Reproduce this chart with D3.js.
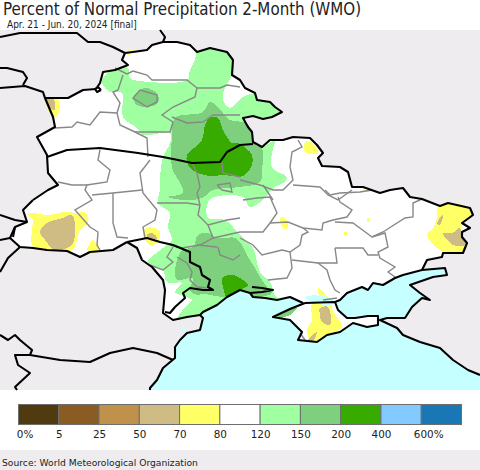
<!DOCTYPE html>
<html>
<head>
<meta charset="utf-8">
<script src="https://cdn.jsdelivr.net/npm/d3@7"></script>
<style>
html, body { margin: 0; padding: 0; background: #fff; }
svg { display: block; }
text { font-family: "DejaVu Sans", sans-serif; fill: #222; }
.cond { font-family: "DejaVu Sans Condensed", "DejaVu Sans", sans-serif; font-stretch: condensed; }
</style>
</head>
<body>
<div id="chart"></div>
<script>
const titleText = 'Percent of Normal Precipitation 2-Month (WMO)';
const subtitleText = 'Apr. 21 - Jun. 20, 2024 [final]';
const sourceText = 'Source: World Meteorological Organization';

const legendColors = ['#503a10','#8a5c24','#c0914b','#cfbc85','#ffff66','#ffffff','#a0ffa0','#7ed07e','#38ab00','#82caff','#1877b4'];
const legendLabels = ['0%','5','25','50','70','80','120','150','200','400','600%'];

// Country border pieces
const borderWest = [[33,200],[48,190],[58,185],[48,173],[47,155],[37,137],[55,127],[53,117],[45,98],[68,98],[83,90],[96,89]];
const borderNorth = [[96,89],[100,83],[103,72],[115,70],[128,65],[122,60],[125,53],[133,52],[147,50],[152,45],[163,42],[177,42],[190,45],[197,52],[210,48],[227,52],[233,60],[232,75],[240,80],[245,88],[255,93],[257,100],[270,102],[275,107],[282,112],[272,117],[263,119],[253,116],[243,118],[248,127],[252,132],[253,142],[262,147],[270,140],[283,140],[293,137],[310,138],[317,145],[323,153],[318,158],[322,166],[340,167],[348,172],[352,187],[363,187],[380,193],[390,190],[403,188],[410,197],[422,199],[440,206],[448,203],[470,208],[473,215],[462,223],[470,228],[462,232],[462,237],[467,243],[463,253],[443,253],[442,257],[427,260],[422,270]];
const coastAzov = [[422,270],[403,275],[395,278],[383,285],[373,283],[368,290],[362,287],[347,293],[340,300],[335,302]];
const coastBlack = [[303,303],[290,297],[277,300],[265,298],[253,297],[250,293],[240,290],[227,297],[217,305],[203,312],[200,315]];
const borderRomania = [[200,315],[187,317],[173,320],[163,313],[165,290],[163,280],[152,267],[142,260],[137,248],[127,242]];
const borderSouthWest = [[127,242],[113,250],[90,252],[80,257],[67,251],[47,250],[33,248],[20,247],[10,238],[15,227],[27,222],[23,210],[33,200]];
const crimea = [[305,303],[290,309],[273,317],[290,320],[302,332],[298,340],[317,342],[327,335],[340,332],[353,323],[367,327],[378,325],[378,316],[368,316],[355,318],[347,318],[338,310],[335,302]];
const coastSouth = [[200,315],[203,318],[200,330],[187,333],[180,340],[175,347],[175,358],[163,368],[157,380],[150,388],[150,390]];
const coastRussia = [[422,270],[445,268],[447,275],[433,277],[410,285],[420,293],[430,300],[422,298],[412,307],[405,318],[387,318],[380,320],[397,328],[403,335],[420,342],[440,348],[453,360],[468,370],[480,375]];

const otherBorders = [
  [[0,37],[20,33],[63,33],[77,33],[88,42],[100,42],[113,47],[125,53]],
  [[160,30],[165,37],[163,42]],
  [[0,68],[7,68],[23,72],[27,78],[23,85]],
  [[0,88],[25,86],[43,92],[45,98]],
  [[47,157],[67,150],[100,148],[138,153],[163,157],[178,160],[192,163],[220,162],[227,152],[240,145],[253,144]],
  [[127,242],[147,238],[160,242],[173,245],[190,252],[190,262],[200,267],[202,275],[210,280],[208,287],[213,290],[203,290],[190,288],[183,293],[185,298],[175,307],[170,313],[165,312]],
  [[0,215],[15,220],[27,222]],
  [[0,240],[10,238]],
  [[20,247],[8,258],[0,272]],
  [[15,227],[13,237]],
  [[0,335],[8,340],[15,335],[20,340],[32,350],[30,355],[60,360],[90,362],[110,353],[133,348],[157,353],[173,360]],
  [[30,355],[15,355],[18,365],[30,373],[15,387],[17,390]],
  [[250,293],[262,292],[273,290],[262,288],[252,287]],
  [[101,90],[97,92],[95,89],[98,87],[101,90]]
];

// Oblast lines
const oblastLines = [
  [[115,68],[127,74],[133,71],[147,75],[152,80],[187,80],[197,88],[195,97],[173,107],[162,115],[173,122],[170,132],[135,132]],
  [[197,88],[220,88],[227,85],[240,87]],
  [[123,75],[118,90],[113,92],[120,103],[117,113],[120,125],[135,132],[147,138],[148,157]],
  [[55,128],[72,127],[77,122],[90,125],[100,112],[117,113]],
  [[100,150],[98,160],[110,170],[107,182],[87,185],[85,190],[92,200],[75,210],[90,227],[98,232],[97,245],[100,250]],
  [[150,160],[140,173],[143,193],[157,210],[155,220],[143,227],[145,238]],
  [[58,182],[72,185],[87,185]],
  [[140,90],[157,95],[157,102],[147,107],[133,98],[140,90]],
  [[172,117],[187,123],[203,122],[213,115],[240,115]],
  [[192,163],[197,173],[200,187],[197,193],[200,205],[198,215],[208,225],[227,220],[240,218]],
  [[222,163],[223,173],[240,177]],
  [[217,185],[230,183],[232,192],[222,190],[217,185]],
  [[298,140],[302,147],[292,152],[290,167],[293,180],[283,190],[273,190],[260,185],[240,180]],
  [[293,185],[320,187],[328,195],[338,200],[352,190]],
  [[263,185],[273,200]],
  [[92,195],[113,193],[142,190]],
  [[113,193],[113,223],[117,237],[128,238]],
  [[157,203],[187,203],[200,205]],
  [[208,225],[213,238],[200,245],[182,248],[170,245]],
  [[213,238],[240,232],[263,232],[270,223],[288,222],[303,228],[322,230],[323,223],[333,220],[347,217],[352,210],[340,202],[338,197]],
  [[325,190],[330,195],[340,193],[360,192],[372,190]],
  [[218,247],[220,255],[233,260],[240,255]],
  [[197,245],[217,247]],
  [[173,247],[167,257],[173,262],[163,270],[150,265]],
  [[177,257],[187,263],[192,272],[190,280],[197,287],[207,288]],
  [[243,200],[257,198],[270,197],[277,213],[270,223]],
  [[335,222],[353,223],[372,237],[383,232],[405,218],[413,217],[413,203],[422,199]],
  [[372,237],[385,233],[388,247],[378,252],[380,258],[395,267],[388,272],[395,277]],
  [[303,228],[308,232],[302,235],[300,245],[290,252],[282,250],[262,255],[253,245],[240,238]],
  [[290,252],[292,268],[287,278],[268,280]],
  [[335,248],[337,263],[318,263],[327,270],[330,280],[335,290],[340,293]],
  [[335,248],[363,248],[368,255],[378,255]],
  [[292,260],[318,263]],
  [[300,333],[305,340]],
  [[323,300],[337,298]]
];

// Precipitation class areas, one list per class
const areasLightGreen = [
  [[197,52],[210,48],[227,52],[233,60],[232,75],[224,90],[223,100],[230,108],[243,97],[255,94],[257,100],[270,102],[275,107],[282,112],[272,117],[263,119],[253,116],[243,118],[248,127],[252,132],[253,142],[262,147],[275,140],[272,153],[272,168],[287,177],[283,183],[273,188],[263,200],[250,207],[243,197],[212,198],[207,205],[208,218],[225,220],[240,235],[253,248],[260,272],[270,282],[277,298],[290,297],[277,300],[265,298],[253,297],[250,293],[240,290],[227,297],[217,305],[203,312],[200,315],[187,317],[177,320],[185,307],[192,300],[175,292],[182,283],[167,282],[163,270],[148,262],[167,245],[172,240],[168,227],[170,213],[158,203],[160,190],[160,177],[163,157],[170,143],[170,133],[143,135],[137,128],[123,117],[122,93],[110,92],[102,83],[105,75],[113,70],[128,68],[130,78],[140,81],[187,80],[190,70],[195,60]]
];
const areasMediumGreen = [
  [[210,102],[218,107],[230,120],[247,123],[250,130],[255,145],[262,148],[262,170],[260,182],[240,187],[213,190],[202,198],[185,200],[168,197],[183,193],[180,183],[172,168],[172,137],[175,118],[203,112]],
  [[198,235],[207,233],[218,238],[235,238],[242,245],[248,257],[255,268],[260,277],[267,287],[272,293],[253,297],[250,293],[240,290],[227,297],[222,297],[203,294],[197,295],[190,290],[193,278],[177,280],[175,270],[178,258],[182,250],[193,247]],
  [[133,98],[137,92],[147,88],[158,95],[158,103],[147,107],[137,105]]
];
const areasDarkGreen = [
  [[210,118],[218,118],[223,130],[232,143],[238,143],[252,155],[252,165],[243,176],[223,175],[210,176],[192,170],[187,162],[187,155],[202,140],[205,125]],
  [[222,278],[233,275],[240,278],[248,285],[240,290],[227,297],[223,287]]
];
const areasCrimeaGreen = [
  [[273,317],[297,308],[290,315],[280,318]]
];
const areasYellow = [
  [[27,213],[50,215],[63,212],[78,213],[85,212],[88,223],[80,230],[72,250],[47,250],[33,247],[32,228],[33,220]],
  [[87,252],[93,240],[100,251]],
  [[143,232],[150,227],[160,232],[157,243],[150,245],[145,240]],
  [[45,98],[58,99],[60,107],[57,116],[53,117]],
  [[125,53],[133,50],[128,55]],
  [[437,208],[448,203],[470,208],[473,215],[462,223],[462,237],[467,243],[463,253],[443,252],[427,235],[433,228],[437,217]],
  [[312,303],[330,302],[333,312],[342,327],[327,335],[312,342],[307,330],[312,320]],
  [[318,288],[327,297],[320,297]],
  [[305,142],[313,143],[318,153],[305,152]],
  [[362,190],[370,190],[368,192]],
  [[280,218],[285,218],[288,228],[283,228]],
  [[367,218],[370,218],[370,222],[367,222]],
  [[344,232],[347,232],[347,235],[344,235]]
];
const areasTan = [
  [[40,232],[47,223],[63,218],[72,215],[75,227],[72,245],[55,250],[45,240]],
  [[147,235],[152,233],[157,238],[150,240]],
  [[45,98],[53,98],[55,110],[50,108]],
  [[452,233],[460,228],[462,237],[465,245],[453,245],[443,233]],
  [[437,223],[443,215],[440,225]],
  [[320,308],[328,307],[330,325],[322,322],[320,315]],
  [[317,332],[308,340],[312,342]]
];
const areasSeaPatch = [
  [[305,297],[323,296],[335,302],[330,305],[315,303]],
  [[181,328],[185,327],[184,332]]
];

const w = 480;
const h = 470;
const plot = d3.select('#chart').append('svg')
  .attr('width', w)
  .attr('height', h);

const colorOf = d3.scaleOrdinal()
  .domain(legendLabels)
  .range(legendColors);

//Map scales
const mapX = d3.scaleLinear().domain([0, 480]).range([0, 480]);
const mapY = d3.scaleLinear().domain([30, 390]).range([30, 390]);
const pathGenerator = d3.line().x(d => mapX(d[0])).y(d => mapY(d[1]));
const ringGenerator = d3.line().x(d => mapX(d[0])).y(d => mapY(d[1])).curve(d3.curveLinearClosed);
const blobGenerator = d3.line().x(d => mapX(d[0])).y(d => mapY(d[1])).curve(d3.curveCatmullRomClosed.alpha(0.5));

//Backgrounds
plot.append('rect').attr('width', w).attr('height', h).style('fill', '#fff');
plot.append('rect').attr('y', 30).attr('width', w).attr('height', 360).style('fill', '#efecf0');
plot.append('rect').attr('y', 450).attr('width', w).attr('height', 20).style('fill', '#efecf0');

const map = plot.append('g').attr('shape-rendering', 'crispEdges');

//Land
const land = [].concat(borderWest, borderNorth, coastAzov, coastBlack, borderRomania, borderSouthWest);
map.append('path').datum(land).attr('d', ringGenerator).style('fill', '#fff');

//Precipitation classes, smoothed like the gridded original
function renderAreas(areas, color){
  map.append('g').selectAll('path')
    .data(areas)
    .enter()
    .append('path')
    .attr('d', blobGenerator)
    .style('fill', color);
}
renderAreas(areasLightGreen, colorOf('120'));
renderAreas(areasMediumGreen, colorOf('150'));
renderAreas(areasDarkGreen, colorOf('200'));

//Sea goes over the green so nothing spills past the coast
const sea = [].concat(coastSouth.slice().reverse(), coastBlack.slice().reverse(), coastAzov.slice().reverse(), coastRussia, [[480,390]]);
map.append('path').datum(sea).attr('d', ringGenerator).style('fill', '#c6ffff');
map.append('path').datum(crimea).attr('d', ringGenerator).style('fill', '#fff');

renderAreas(areasCrimeaGreen, colorOf('150'));
renderAreas(areasYellow, colorOf('70'));
renderAreas(areasTan, colorOf('50'));
renderAreas(areasSeaPatch, '#c6ffff');

//Lines
plot.append('g').selectAll('path')
  .data(oblastLines)
  .enter()
  .append('path')
  .attr('d', pathGenerator)
  .style('fill', 'none')
  .style('stroke', '#888')
  .style('stroke-width', 1.4);

const blackLines = otherBorders.concat([borderWest, borderNorth, coastAzov, crimea.concat([crimea[0]]), coastBlack, borderRomania, borderSouthWest, coastSouth, coastRussia]);
plot.append('g').selectAll('path')
  .data(blackLines)
  .enter()
  .append('path')
  .attr('d', pathGenerator)
  .style('fill', 'none')
  .style('stroke', '#000')
  .style('stroke-width', 2.1)
  .style('stroke-linejoin', 'round');

//Titles
plot.append('text').attr('class', 'cond').attr('x', 3).attr('y', 15)
  .style('font-size', '16.8px').text(titleText);
plot.append('text').attr('class', 'cond').attr('x', 7).attr('y', 27.5)
  .style('font-size', '10px').text(subtitleText);
plot.append('text').attr('x', 2).attr('y', 466)
  .style('font-size', '9.2px').text(sourceText);

//Legend
const legendX = d3.scaleLinear().domain([0, legendColors.length]).range([18.5, 461.5]);
plot.append('g').selectAll('rect')
  .data(legendColors)
  .enter()
  .append('rect')
  .attr('x', (d, i) => legendX(i))
  .attr('y', 404.5)
  .attr('width', (d, i) => legendX(i + 1) - legendX(i))
  .attr('height', 20)
  .style('fill', d => d)
  .style('stroke', '#6e6e6e')
  .style('stroke-width', 1);

const legendAxis = d3.axisBottom(legendX)
  .tickValues(d3.range(legendLabels.length))
  .tickFormat(i => legendLabels[i])
  .tickSize(0);
const legendTicks = plot.append('g')
  .attr('transform', 'translate(0,425)')
  .call(legendAxis);
legendTicks.select('.domain').remove();
legendTicks.selectAll('text')
  .attr('dy', null)
  .attr('y', 13)
  .attr('dx', (d, i) => i === 0 ? 6 : (i === 10 ? 7 : 0))
  .style('font-family', '"DejaVu Sans", sans-serif')
  .style('font-size', '10.4px')
  .style('fill', '#222');
</script>
</body>
</html>
